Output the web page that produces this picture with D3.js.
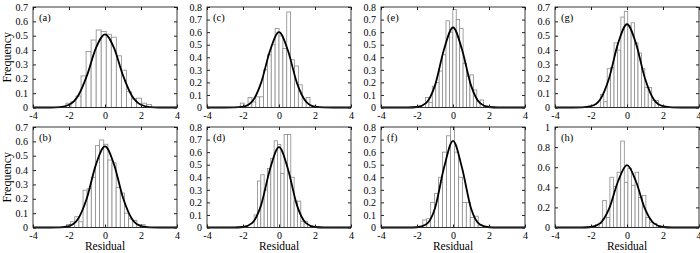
<!DOCTYPE html>
<html>
<head>
<meta charset="utf-8">
<script src="https://cdn.jsdelivr.net/npm/d3@7"></script>
<style>
body{margin:0;background:#fff}
svg text{font-family:"Times New Roman","Liberation Serif","DejaVu Serif",serif;fill:#000}
</style>
</head>
<body>
<main></main>
<script>
const sizeOfSVG={width:700,height:253}

// panels in reading order of the figure: a,b (column 1), c,d (column 2) ...
const panelLabels=['(a)','(b)','(c)','(d)','(e)','(f)','(g)','(h)']
const yMaxes=[0.7,0.7,0.8,0.8,0.8,0.8,0.7,1]
const yTickSteps=[0.1,0.1,0.1,0.1,0.1,0.1,0.1,0.2]
const xTicks=[-4,-2,0,2,4]

// histogram: first bin edge, bin width, bar heights
const binStarts=[-2.17,-2.14,-2.15,-1.38,-1.53,-1.68,-1.48,-1.75]
const binWidths=[0.28,0.23,0.215,0.185,0.19,0.22,0.19,0.2]
const histA=[0.03,0.04,0.08,0.22,0.39,0.47,0.54,0.53,0.51,0.49,0.36,0.26,0.11,0.06,0.065,0.03,0.02]
const histB=[0.02,0.04,0.075,0.04,0.26,0.27,0.35,0.57,0.61,0.58,0.47,0.45,0.28,0.24,0.10,0.06,0.05,0.02,0.02]
const histC=[0.035,0,0.08,0.045,0.085,0.085,0.3,0.42,0.5,0.63,0.57,0.47,0.76,0.38,0.33,0.18,0,0.08]
const histD=[0.1,0.37,0.42,0.3,0.47,0.55,0.69,0.66,0.43,0.74,0.74,0.4,0.21,0.21,0.05,0.05]
const histE=[0.08,0.04,0.17,0.2,0.29,0.42,0.69,0.6,0.78,0.7,0.63,0.35,0.25,0.26,0.14,0.05,0.06]
const histF=[0.06,0.07,0.2,0.27,0.4,0.6,0.73,0.8,0.6,0.4,0.2,0.2,0.08,0.09,0.02]
const histG=[0.09,0.04,0.27,0.28,0.45,0.4,0.63,0.67,0.57,0.59,0.45,0.38,0.27,0.14,0.14,0.05,0.05]
const histH=[0.03,0.04,0.27,0.1,0.5,0.41,0.55,0.86,0.45,0.59,0.42,0.55,0.3,0.32,0.1,0.05,0.04]

// fitted curve read at these residuals
const curveX=[-4,-3.5,-3,-2.5,-2,-1.5,-1,-0.5,0,0.5,1,1.5,2,2.5,3,3.5,4]
const curveA=[0,0,0,0.003,0.019,0.08,0.224,0.415,0.51,0.415,0.224,0.08,0.019,0.003,0,0,0]
const curveB=[0,0,0,0.001,0.01,0.059,0.207,0.44,0.565,0.44,0.207,0.059,0.01,0.001,0,0,0]
const curveC=[0,0,0,0.001,0.007,0.047,0.194,0.452,0.6,0.452,0.194,0.047,0.007,0.001,0,0,0]
const curveD=[0,0,0,0,0.004,0.035,0.176,0.464,0.64,0.464,0.176,0.035,0.004,0,0,0,0]
const curveE=[0,0,0,0,0.004,0.035,0.176,0.462,0.637,0.462,0.176,0.035,0.004,0,0,0,0]
const curveF=[0,0,0,0,0.002,0.024,0.154,0.475,0.69,0.475,0.154,0.024,0.002,0,0,0,0]
const curveG=[0,0,0,0.001,0.009,0.054,0.202,0.445,0.58,0.445,0.202,0.054,0.009,0.001,0,0,0]
const curveH=[0,0,0,0,0.005,0.041,0.185,0.458,0.62,0.458,0.185,0.041,0.005,0,0,0,0]

const hists=[histA,histB,histC,histD,histE,histF,histG,histH]
const curves=[curveA,curveB,curveC,curveD,curveE,curveF,curveG,curveH]

const layout={left:33,colStep:174,top:7,rowStep:120,w:144,h:100.5}
const tickLen=3

const svg=d3.select('main')
            .append('svg')
            .attr('width',sizeOfSVG.width)
            .attr('height',sizeOfSVG.height)

const fmtY=(d)=> String(+d.toFixed(1))
const fmtX=(d)=> String(d) // plain hyphen like the original, not a unicode minus

const drawPanel=(i)=>{
    const col=Math.floor(i/2), row=i%2
    const g=svg.append('g')
        .attr('transform',`translate(${layout.left+col*layout.colStep},${layout.top+row*layout.rowStep})`)

    const xScale=d3.scaleLinear().domain([-4,4]).range([0,layout.w])
    const yScale=d3.scaleLinear().domain([0,yMaxes[i]]).range([layout.h,0])
    const yTicks=d3.range(0,yMaxes[i]+1e-9,yTickSteps[i])

    const bins=hists[i].map((v,k)=>({x0:binStarts[i]+k*binWidths[i],x1:binStarts[i]+(k+1)*binWidths[i],v}))
    g.selectAll('rect.bar')
        .data(bins.filter(b=>b.v>0))
        .enter()
            .append('rect')
            .attr('class','bar')
            .attr('x',d=>xScale(d.x0))
            .attr('width',d=>xScale(d.x1)-xScale(d.x0))
            .attr('y',d=>yScale(d.v))
            .attr('height',d=>layout.h-yScale(d.v))
            .attr('fill','#fff')
            .attr('stroke','#8a8a8a')
            .attr('stroke-width',0.8)

    const line=d3.line()
        .x((d,k)=>xScale(curveX[k]))
        .y(d=>yScale(d))
        .curve(d3.curveMonotoneX)
    g.append('path')
        .datum(curves[i])
        .attr('d',line)
        .attr('fill','none')
        .attr('stroke','#000')
        .attr('stroke-width',1.8)

    const styleAxis=(sel,labels)=>{
        sel.attr('font-family',null).attr('font-size',10)
        sel.select('.domain').remove()
        sel.selectAll('line').attr('stroke','#222')
        if(!labels) sel.selectAll('text').remove()
    }

    const xAxis=g.append('g')
        .attr('transform',`translate(0,${layout.h})`)
        .call(d3.axisBottom(xScale).tickValues(xTicks).tickSize(-tickLen).tickPadding(4).tickFormat(fmtX))
        .call(s=>styleAxis(s,true))
    if(col===3){
        // keep the last "4" inside the picture
        xAxis.selectAll('.tick text').filter(d=>d===4).attr('text-anchor','end').attr('dx',2)
    }
    g.append('g')
        .call(d3.axisTop(xScale).tickValues(xTicks).tickSize(-tickLen).tickFormat(''))
        .call(s=>styleAxis(s,false))
    g.append('g')
        .call(d3.axisLeft(yScale).tickValues(yTicks).tickSize(-tickLen).tickPadding(5).tickFormat(fmtY))
        .call(s=>styleAxis(s,true))
    g.append('g')
        .attr('transform',`translate(${layout.w},0)`)
        .call(d3.axisRight(yScale).tickValues(yTicks).tickSize(-tickLen).tickFormat(''))
        .call(s=>styleAxis(s,false))

    g.append('rect')
        .attr('width',layout.w)
        .attr('height',layout.h)
        .attr('fill','none')
        .attr('stroke','#222')
        .attr('stroke-width',0.9)

    g.append('text')
        .attr('x',6)
        .attr('y',14)
        .attr('font-size',10.5)
        .text(panelLabels[i])
}

d3.range(8).forEach(drawPanel)

;[0,1].forEach(row=>{
    svg.append('text')
        .attr('transform',`translate(11,${layout.top+row*layout.rowStep+layout.h/2}) rotate(-90)`)
        .attr('text-anchor','middle')
        .attr('font-size',12)
        .text('Frequency')
})
;[0,1,2,3].forEach(col=>{
    svg.append('text')
        .attr('x',layout.left+col*layout.colStep+layout.w/2)
        .attr('y',250)
        .attr('text-anchor','middle')
        .attr('font-size',11.5)
        .text('Residual')
})
</script>
</body>
</html>
